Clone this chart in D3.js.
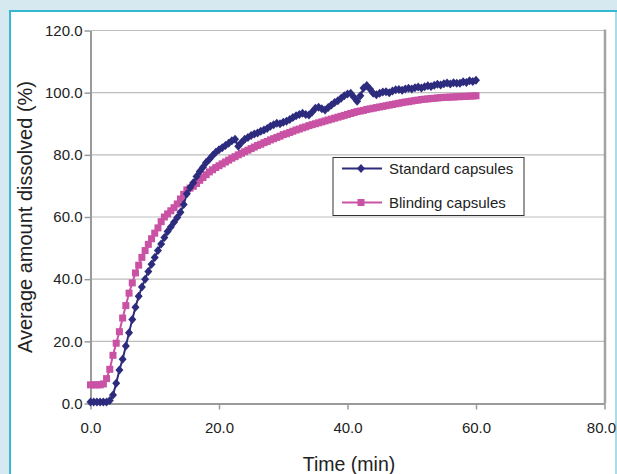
<!DOCTYPE html>
<html>
<head>
<meta charset="utf-8">
<script src="https://cdn.jsdelivr.net/npm/d3@7"></script>
<style>
  body { margin: 0; background: #d6e9f0; }
  svg { display: block; font-family: "Liberation Sans", Arial, sans-serif; }
</style>
</head>
<body>
<div id="chart"></div>
<script>
var times = [];
for (var i = 0; i <= 120; i++) times.push(i * 0.5);

var standard = [
  0.5, 0.5, 0.5, 0.5, 0.5, 0.5, 1.0, 2.7, 6.5, 10.8,
  14.2, 18.5, 22.8, 27.0, 31.0, 34.5, 37.5, 40.0, 42.5, 44.8,
  47.0, 49.2, 51.3, 53.4, 55.3, 56.8, 58.3, 59.8, 61.5, 64.0,
  67.5, 69.5, 71.0, 73.0, 74.6, 76.0, 77.5, 78.6, 79.8, 80.8,
  81.6, 82.3, 83.0, 83.7, 84.5, 85.0, 82.8, 84.0, 85.0, 85.6,
  86.2, 86.7, 87.0, 87.6, 88.0, 88.5, 89.2, 89.7, 90.2, 90.0,
  90.5, 90.8, 91.4, 92.0, 92.6, 93.0, 93.4, 93.0, 92.8, 93.8,
  95.0, 95.3, 94.8, 94.4, 95.2, 96.0, 96.8, 97.4, 98.2, 99.0,
  99.6, 99.8, 98.5, 97.2, 99.0, 101.5, 102.3, 101.2, 99.8, 99.3,
  99.8, 100.2, 100.3, 100.0, 100.5, 100.9, 101.0, 100.8, 101.2, 101.4,
  101.2, 101.6, 101.8, 101.5, 101.9, 102.2, 102.0, 102.4, 102.7, 102.5,
  102.9, 103.1, 102.8, 103.2, 103.0, 103.0, 103.5, 103.3, 103.8, 103.6,
  104.0
];

var blinding = [
  6.0, 6.0, 6.0, 6.0, 6.3, 8.0, 11.0, 15.5, 19.4, 23.1,
  27.5, 31.5, 35.5, 38.8, 42.0, 44.5, 47.0, 49.2, 51.2, 53.0,
  54.8, 56.5, 58.5, 60.0, 61.0, 62.0, 63.0, 64.2, 65.8, 67.3,
  68.7, 69.3, 69.9, 70.8, 71.8, 72.7, 73.6, 74.5, 75.2, 75.9,
  76.5, 77.1, 77.7, 78.3, 78.9, 79.4, 80.0, 80.5, 81.0, 81.5,
  82.0, 82.5, 83.0, 83.4, 83.9, 84.3, 84.8, 85.2, 85.6, 86.0,
  86.5, 86.8, 87.2, 87.6, 88.0, 88.3, 88.7, 89.0, 89.4, 89.7,
  90.0, 90.3, 90.6, 90.9, 91.2, 91.5, 91.8, 92.1, 92.4, 92.7,
  93.0, 93.3, 93.6, 93.9, 94.1, 94.3, 94.6, 94.8, 95.0, 95.2,
  95.4, 95.6, 95.8, 96.0, 96.2, 96.4, 96.6, 96.8, 97.0, 97.1,
  97.3, 97.5, 97.6, 97.8, 97.9, 98.0, 98.1, 98.2, 98.3, 98.4,
  98.5, 98.5, 98.6, 98.6, 98.7, 98.7, 98.8, 98.8, 98.9, 98.9,
  99.0
];

var xTicks = [0, 20, 40, 60, 80];
var yTicks = [0, 20, 40, 60, 80, 100, 120];
var seriesNames = ["Standard capsules", "Blinding capsules"];
var seriesColors = ["#2d2b7d", "#c952a4"];

var W = 617, H = 474;
var svg = d3.select("#chart").append("svg")
    .attr("width", W)
    .attr("height", H);

// panel
svg.append("rect")
    .attr("x", 10).attr("y", 11)
    .attr("width", 606).attr("height", 470)
    .attr("fill", "#ffffff")
    .attr("stroke", "#35b8d2")
    .attr("stroke-width", 2);
svg.append("line")
    .attr("x1", 616).attr("x2", 616)
    .attr("y1", 12).attr("y2", H)
    .attr("stroke", "#a8dcea").attr("stroke-width", 2);

var x = d3.scaleLinear().domain([0, 80]).range([90.5, 604.5]);
var y = d3.scaleLinear().domain([0, 120]).range([403.5, 30.5]);

// gridlines
svg.append("g")
    .selectAll("line")
    .data(yTicks)
    .enter().append("line")
    .attr("x1", x(0)).attr("x2", x(80))
    .attr("y1", function(d) { return y(d); })
    .attr("y2", function(d) { return y(d); })
    .attr("stroke", "#bdbdbd")
    .attr("stroke-width", 1.2);

// right frame
svg.append("line")
    .attr("x1", x(80) + 0.5).attr("x2", x(80) + 0.5)
    .attr("y1", y(120) - 1).attr("y2", y(0))
    .attr("stroke", "#a2a2a2").attr("stroke-width", 2.5);

// axes
var yAxis = svg.append("g")
    .attr("transform", "translate(" + x(0) + ",0)")
    .call(d3.axisLeft(y).tickValues(yTicks).tickFormat(d3.format(".1f")).tickSize(6).tickPadding(2).tickSizeOuter(0));
var xAxis = svg.append("g")
    .attr("transform", "translate(0," + y(0) + ")")
    .call(d3.axisBottom(x).tickValues(xTicks).tickFormat(d3.format(".1f")).tickSize(6).tickPadding(13).tickSizeOuter(0));

[yAxis, xAxis].forEach(function(a) {
    a.select(".domain").attr("stroke", "#9a9a9a").attr("stroke-width", 2);
    a.selectAll(".tick line").attr("stroke", "#9a9a9a").attr("stroke-width", 1.5);
    a.selectAll(".tick text")
        .attr("fill", "#222")
        .style("font-size", "15px")
        .style("font-family", "'Liberation Sans', Arial, sans-serif");
});
// last label sits against the panel edge
xAxis.selectAll(".tick text").filter(function(d) { return d === 80; })
    .attr("text-anchor", "end")
    .attr("dx", "11px");

// series
var line = d3.line()
    .x(function(d) { return x(d[0]); })
    .y(function(d) { return y(d[1]); });

var allSeries = [standard, blinding].map(function(vals) {
    return vals.map(function(v, i) { return [times[i], v]; });
});

function drawMarker(g, i, cx, cy) {
    if (i === 0) {
        g.append("path")
            .attr("d", "M" + cx + "," + (cy - 4.5) + "L" + (cx + 4) + "," + cy + "L" + cx + "," + (cy + 4.5) + "L" + (cx - 4) + "," + cy + "Z")
            .attr("fill", seriesColors[i]);
    } else {
        g.append("rect")
            .attr("x", cx - 3.5).attr("y", cy - 3.5)
            .attr("width", 7).attr("height", 7)
            .attr("fill", seriesColors[i]);
    }
}

// draw blinding first so standard sits on top
[1, 0].forEach(function(i) {
    var g = svg.append("g");
    g.append("path")
        .datum(allSeries[i])
        .attr("fill", "none")
        .attr("stroke", seriesColors[i])
        .attr("stroke-width", 2)
        .attr("d", line);
    allSeries[i].forEach(function(d) {
        drawMarker(g, i, x(d[0]), y(d[1]));
    });
});

// legend
var lg = svg.append("g");
lg.append("rect")
    .attr("x", 333).attr("y", 157.5)
    .attr("width", 191).attr("height", 58)
    .attr("fill", "#ffffff")
    .attr("stroke", "#333")
    .attr("stroke-width", 1);
seriesNames.forEach(function(name, i) {
    var ly = 168.5 + i * 34;
    lg.append("line")
        .attr("x1", 342).attr("x2", 382)
        .attr("y1", ly).attr("y2", ly)
        .attr("stroke", seriesColors[i])
        .attr("stroke-width", 2);
    drawMarker(lg, i, 361, ly);
    lg.append("text")
        .attr("x", 389).attr("y", ly)
        .attr("dy", "0.35em")
        .style("font-size", "15px")
        .attr("fill", "#222")
        .text(name);
});

// axis titles
svg.append("text")
    .attr("x", 349).attr("y", 471)
    .attr("text-anchor", "middle")
    .style("font-size", "19.5px")
    .attr("fill", "#222")
    .text("Time (min)");

svg.append("text")
    .attr("transform", "translate(32,217) rotate(-90)")
    .attr("text-anchor", "middle")
    .style("font-size", "20px")
    .attr("fill", "#222")
    .text("Average amount dissolved (%)");
</script>
</body>
</html>
